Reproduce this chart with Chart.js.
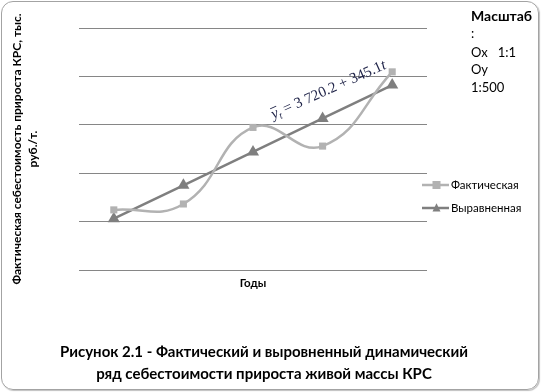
<!DOCTYPE html>
<html>
<head>
<meta charset="utf-8">
<script src="https://cdn.jsdelivr.net/npm/chart.js@4.4.1/dist/chart.umd.min.js"></script>
<style>
  html, body { margin: 0; padding: 0; background: #ffffff; }
  #wrap { position: relative; width: 541px; height: 392px; overflow: hidden; background: #fff; }
  #c { position: absolute; left: 0; top: 0; }
  #frame { position: absolute; left: 1px; top: 1px; width: 536px; height: 387px;
           border: 1.5px solid #a3a3a3; border-radius: 12px; pointer-events: none;
           box-shadow: 1px 1px 1px rgba(0,0,0,0.25); }
</style>
</head>
<body>
<div id="wrap">
  <canvas id="c" width="541" height="392"></canvas>
  <div id="frame"></div>
</div>
<script>
// ---- data ----
const periods = ['1', '2', '3', '4', '5'];
const actualValues = [3121, 3182, 3973, 3780, 4547];
const trendValues = [3030.0, 3375.1, 3720.2, 4065.3, 4410.4];
const seriesNames = ['Фактическая', 'Выравненная'];
const yMin = 2500, yMax = 5000, yStep = 500;
const xTitle = 'Годы';
const yTitleLines = ['Фактическая себестоимость прироста КРС, тыс.', 'руб./т.'];
const captionLines = ['Рисунок 2.1 - Фактический и выровненный динамический',
                      'ряд себестоимости прироста живой массы КРС'];
const scaleNoteLines = ['Масштаб', ':', 'Ох   1:1', 'Оу', '1:500'];
const equationParts = { lhsVar: 'y', lhsSub: 't', rhs: ' = 3 720.2 + 345.1', tail: 't' };

const FONT = 'Lato, "Open Sans", sans-serif';
const colActual = '#b2b2b2';
const colTrend = '#7f7f7f';

function drawTriangle(ctx, x, y, s, color) {
  ctx.save();
  ctx.fillStyle = color;
  ctx.beginPath();
  ctx.moveTo(x, y - s * 0.6);
  ctx.lineTo(x + s / 2, y + s * 0.45);
  ctx.lineTo(x - s / 2, y + s * 0.45);
  ctx.closePath();
  ctx.fill();
  ctx.restore();
}

const decorPlugin = {
  id: 'decor',
  afterDraw(chart) {
    const ctx = chart.ctx;
    const ca = chart.chartArea;
    const xs = chart.scales.x, ys = chart.scales.y;
    ctx.save();
    ctx.fillStyle = '#000';
    ctx.textAlign = 'center';
    ctx.textBaseline = 'middle';

    // x title
    ctx.font = 'bold 11.5px ' + FONT;
    ctx.fillText(xTitle, (ca.left + ca.right) / 2, ca.bottom + 13);

    // y title (rotated)
    ctx.save();
    ctx.translate(17, (ca.top + ca.bottom) / 2);
    ctx.rotate(-Math.PI / 2);
    ctx.font = 'bold 12px ' + FONT;
    ctx.fillText(yTitleLines[0], 0, 0);
    ctx.fillText(yTitleLines[1], 0, 16);
    ctx.restore();

    // caption
    ctx.font = 'bold 15px ' + FONT;
    ctx.fillText(captionLines[0], 264, 352);
    ctx.fillText(captionLines[1], 264, 374);

    // scale note
    ctx.textAlign = 'left';
    ctx.font = 'bold 14px ' + FONT;
    ctx.fillText(scaleNoteLines[0], 471, 16);
    ctx.font = '13px ' + FONT;
    const noteY = [34, 53, 70, 88];
    for (let i = 1; i < scaleNoteLines.length; i++) {
      ctx.fillText(scaleNoteLines[i], 471, noteY[i - 1]);
    }

    // legend
    ctx.font = '11.5px ' + FONT;
    const lg = [{ y: 185, c: colActual, m: 'sq' }, { y: 208, c: colTrend, m: 'tri' }];
    lg.forEach((it, i) => {
      ctx.strokeStyle = it.c;
      ctx.lineWidth = 2.5;
      ctx.beginPath();
      ctx.moveTo(422, it.y);
      ctx.lineTo(449, it.y);
      ctx.stroke();
      if (it.m === 'sq') {
        ctx.fillStyle = it.c;
        ctx.fillRect(436.5 - 4, it.y - 4, 8, 8);
      } else {
        drawTriangle(ctx, 436.5, it.y, 8, it.c);
      }
      ctx.fillStyle = '#000';
      ctx.fillText(seriesNames[i], 451, it.y);
    });

    // trend equation, anchored to the data scales
    const cx = xs.getPixelForValue(3) + 6;
    const cy = ys.getPixelForValue(4360);
    ctx.save();
    ctx.translate(cx, cy);
    ctx.rotate(-24 * Math.PI / 180);
    ctx.fillStyle = '#1f2348';
    const fItal = 'italic 15px "Liberation Serif", serif';
    const fReg = '15px "Liberation Serif", serif';
    const fSub = 'italic 10px "Liberation Serif", serif';
    ctx.font = fItal; const wY = ctx.measureText(equationParts.lhsVar).width;
    ctx.font = fSub; const wS = ctx.measureText(equationParts.lhsSub).width;
    ctx.font = fReg; const wR = ctx.measureText(equationParts.rhs).width;
    ctx.font = fItal; const wT = ctx.measureText(equationParts.tail).width;
    const total = wY + wS + wR + wT;
    let px = -total / 2;
    const base = 4;
    ctx.textAlign = 'left';
    ctx.textBaseline = 'alphabetic';
    ctx.font = fItal; ctx.fillText(equationParts.lhsVar, px, base);
    ctx.strokeStyle = '#1f2348'; ctx.lineWidth = 0.9;
    ctx.beginPath(); ctx.moveTo(px + 1, base - 10.5); ctx.lineTo(px + wY + 1, base - 10.5); ctx.stroke();
    px += wY;
    ctx.font = fSub; ctx.fillText(equationParts.lhsSub, px, base + 3);
    px += wS;
    ctx.font = fReg; ctx.fillText(equationParts.rhs, px, base);
    px += wR;
    ctx.font = fItal; ctx.fillText(equationParts.tail, px, base);
    ctx.restore();

    ctx.restore();
  }
};

new Chart(document.getElementById('c'), {
  type: 'line',
  data: {
    labels: periods,
    datasets: [
      {
        label: seriesNames[0],
        data: actualValues,
        borderColor: colActual,
        backgroundColor: colActual,
        borderWidth: 2.5,
        tension: 0.45,
        pointStyle: 'rect',
        pointRadius: 5,
        pointBorderWidth: 0,
        pointBackgroundColor: colActual
      },
      {
        label: seriesNames[1],
        data: trendValues,
        borderColor: colTrend,
        backgroundColor: colTrend,
        borderWidth: 2.5,
        tension: 0,
        pointStyle: 'triangle',
        pointRadius: 7,
        pointBorderWidth: 0,
        pointBackgroundColor: colTrend
      }
    ]
  },
  options: {
    responsive: false,
    animation: false,
    devicePixelRatio: 1,
    layout: { padding: { left: 79, right: 114, top: 28, bottom: 122 } },
    plugins: { legend: { display: false }, tooltip: { enabled: false }, title: { display: false } },
    scales: {
      x: {
        type: 'category',
        offset: true,
        grid: { display: false, drawTicks: false },
        border: { display: false },
        ticks: { display: false }
      },
      y: {
        min: yMin,
        max: yMax,
        ticks: { display: false, stepSize: yStep },
        grid: { color: '#868686', lineWidth: 1, drawTicks: false },
        border: { display: false }
      }
    }
  },
  plugins: [decorPlugin]
});
</script>
</body>
</html>
